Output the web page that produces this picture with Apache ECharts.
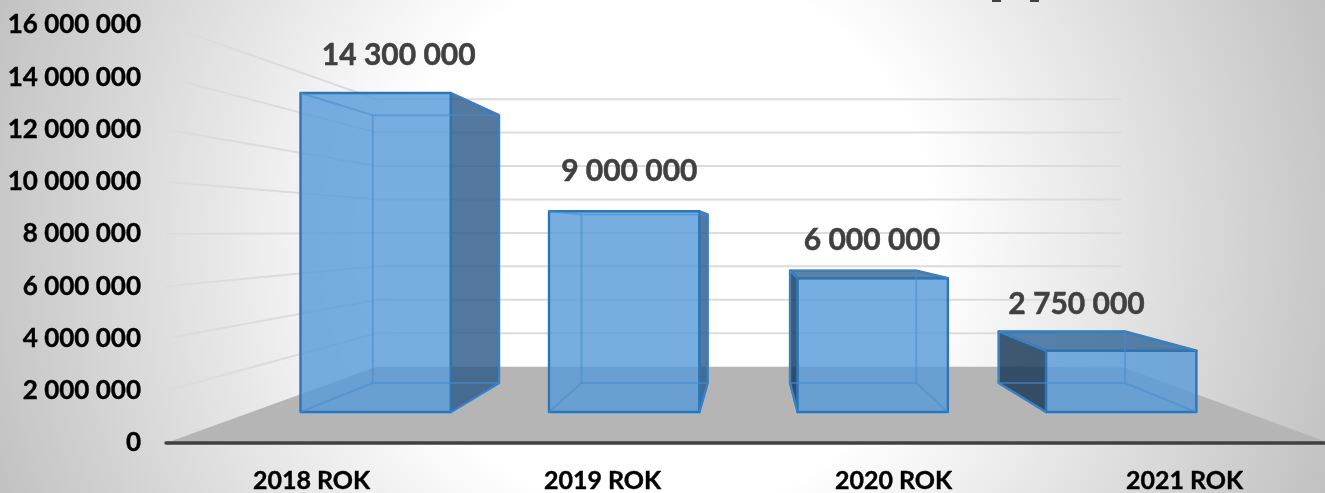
<!DOCTYPE html>
<html>
<head>
<meta charset="utf-8">
<style>
    html, body { margin: 0; padding: 0; }
    #chart { width: 1325px; height: 493px; }
</style>
<script src="https://cdn.jsdelivr.net/npm/echarts@6/dist/echarts.min.js"></script>
</head>
<body>
<div id="chart"></div>
<script>
// wartosci z wykresu
var categories = ['2018 ROK', '2019 ROK', '2020 ROK', '2021 ROK'];
var values = [14300000, 9000000, 6000000, 2750000];
var tickValues = [2000000, 4000000, 6000000, 8000000, 10000000, 12000000, 14000000, 16000000];

// perspektywa: punkt zbiegu i skala glebokosci
var vanish = [751, 231];
var frontDepth = 0.854;
var backDepth = 0.717;
var floorDepth = 0.64;
var barShare = 0.605;
// przesuniecie etykiet wzgledem gornej sciany slupka
var labelShift = [[-1, -38], [1, -40], [3, -30], [-21, -27]];

function project (pt, s) {
    return [vanish[0] + (pt[0] - vanish[0]) * s, vanish[1] + (pt[1] - vanish[1]) * s];
}

function spaced (v) {
    return String(v).replace(/\B(?=(\d{3})+$)/g, ' ');
}

function renderFloor (params, api) {
    var c = params.coordSys;
    var bottom = c.y + c.height;
    return {
        type: 'polygon',
        shape: {
            points: [
                [c.x, bottom],
                [c.x + c.width, bottom],
                project([c.x + c.width, bottom], floorDepth),
                project([c.x, bottom], floorDepth)
            ]
        },
        style: { fill: '#b5b5b5' }
    };
}

function renderGridLine (params, api) {
    var c = params.coordSys;
    var y = api.coord([0, api.value(1)])[1];
    return {
        type: 'polyline',
        shape: {
            points: [
                [c.x, y],
                project([c.x, y], floorDepth),
                project([c.x + c.width, y], floorDepth)
            ]
        },
        style: { fill: 'none', stroke: '#dcdcdc', lineWidth: 2 }
    };
}

function face (points, fill) {
    return {
        type: 'polygon',
        shape: { points: points },
        style: { fill: fill, stroke: '#2e75b6', lineWidth: 2.4, lineJoin: 'round' }
    };
}

function inner (points) {
    return {
        type: 'polyline',
        shape: { points: points },
        style: { fill: 'none', stroke: 'rgba(70,140,208,0.55)', lineWidth: 2 }
    };
}

function renderBar (params, api) {
    var i = api.value(0);
    var top = api.coord([i, api.value(1)]);
    var base = api.coord([i, 0]);
    var half = api.size([1, 0])[0] * barShare / 2;
    var corners = [
        [top[0] - half, top[1]],
        [top[0] + half, top[1]],
        [top[0] + half, base[1]],
        [top[0] - half, base[1]]
    ];
    var f = corners.map(function (p) { return project(p, frontDepth); });
    var b = corners.map(function (p) { return project(p, backDepth); });
    var children = [];

    if (b[1][0] > f[1][0]) {
        children.push(face([f[1], b[1], b[2], f[2]], 'rgba(46,89,135,0.81)'));
    }
    if (b[0][0] < f[0][0]) {
        children.push(face([f[0], b[0], b[3], f[3]], 'rgba(22,54,86,0.82)'));
    }
    if (b[0][1] < f[0][1]) {
        children.push(face([f[0], b[0], b[1], f[1]], 'rgba(52,102,152,0.81)'));
    }
    children.push(face(f, 'rgba(88,155,215,0.81)'));

    // krawedzie widoczne przez przednia sciane
    children.push(inner([b[0], b[1], b[2], b[3], b[0]]));
    children.push(inner([f[0], b[0]]));
    children.push(inner([f[1], b[1]]));
    children.push(inner([f[2], b[2]]));
    children.push(inner([f[3], b[3]]));

    var shift = labelShift[i];
    children.push({
        type: 'text',
        x: (Math.min(f[0][0], b[0][0]) + Math.max(f[1][0], b[1][0])) / 2 + shift[0],
        y: Math.min(f[0][1], b[0][1]) + shift[1],
        style: {
            text: spaced(api.value(1)),
            font: 'bold 30px Lato',
            fill: '#404040',
            stroke: '#404040',
            lineWidth: 0.5,
            align: 'center',
            verticalAlign: 'middle'
        }
    });
    return { type: 'group', children: children };
}

var myChart = echarts.init(document.getElementById('chart'));
myChart.setOption({
    animation: false,
    backgroundColor: {
        type: 'radial',
        x: 660,
        y: 240,
        r: 760,
        global: true,
        colorStops: [
            { offset: 0, color: '#ffffff' },
            { offset: 0.36, color: '#ffffff' },
            { offset: 1, color: '#bababa' }
        ]
    },
    grid: {
        left: 166,
        top: 25,
        width: 1164,
        height: 418,
        outerBoundsMode: 'none'
    },
    xAxis: {
        type: 'category',
        data: categories,
        axisTick: { show: false },
        axisLine: {
            lineStyle: { color: '#404040', width: 3.5 }
        },
        axisLabel: {
            margin: 25,
            color: '#000000',
            fontFamily: 'Lato',
            fontWeight: 'bold',
            fontSize: 25,
            textBorderColor: '#000000',
            textBorderWidth: 0.4
        },
        splitLine: { show: false },
        z: 5
    },
    yAxis: {
        type: 'value',
        min: 0,
        max: 16000000,
        interval: 2000000,
        axisLine: { show: false },
        axisTick: { show: false },
        splitLine: { show: false },
        axisLabel: {
            margin: 25,
            color: '#000000',
            fontFamily: 'Lato',
            fontWeight: 'bold',
            fontSize: 26,
            padding: [4, 0, 0, 0],
            textBorderColor: '#000000',
            textBorderWidth: 0.4,
            formatter: spaced
        }
    },
    series: [
        {
            type: 'custom',
            name: 'floor',
            renderItem: renderFloor,
            data: [[0, 0]],
            silent: true,
            z: 1
        },
        {
            type: 'custom',
            name: 'grid',
            renderItem: renderGridLine,
            data: tickValues.map(function (v) { return [0, v]; }),
            silent: true,
            z: 2
        },
        {
            type: 'custom',
            name: 'bars',
            renderItem: renderBar,
            data: values.map(function (v, i) { return [i, v]; }),
            z: 3
        }
    ],
    graphic: [
        { type: 'rect', shape: { x: 992, y: 0, width: 9, height: 2 }, style: { fill: '#404040' } },
        { type: 'rect', shape: { x: 1030, y: 0, width: 9, height: 2 }, style: { fill: '#404040' } }
    ]
});
</script>
</body>
</html>
